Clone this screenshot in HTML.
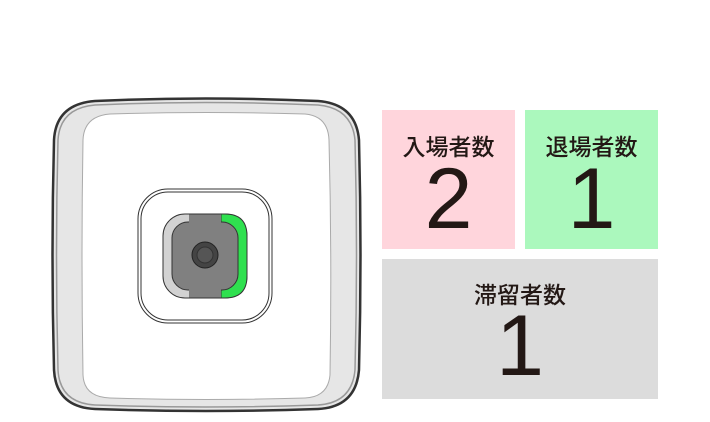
<!DOCTYPE html>
<html><head><meta charset="utf-8"><style>
html,body{margin:0;padding:0;background:#fff;}
body{width:710px;height:422px;position:relative;overflow:hidden;font-family:"Liberation Sans","Noto Sans CJK JP",sans-serif;color:#231815;}
.box{position:absolute;text-align:center;}
.lbl{position:absolute;left:0;right:0;font-size:23px;line-height:23px;font-weight:500;}
.num{position:absolute;left:0;right:0;font-size:86px;line-height:86px;}
</style></head><body>
<svg width="710" height="422" style="position:absolute;left:0;top:0">
  <path d="M95,101 Q205,96 318,101 Q356,104 359,140 Q362,255 359,370 Q356,407 318,409 Q205,413 95,409 Q56,407 54,370 Q51,255 54,140 Q56,104 95,101 Z" fill="#e6e6e6" stroke="#333" stroke-width="2.5"/>
  <path d="M95,105 Q205,100 318,105 Q352,108 355,140 Q358,255 355,370 Q352,403 318,405 Q205,409 95,405 Q60,403 58,370 Q55,255 58,140 Q60,108 95,105 Z" fill="none" stroke="#999" stroke-width="1.5"/>
  <path d="M110,114 Q205,111 305,114 Q328,116 329,140 Q332,255 330,375 Q328,397 305,398 Q205,401 110,398 Q84,397 83,375 Q81,255 83,140 Q84,116 110,114 Z" fill="#fff" stroke="#aaa" stroke-width="1"/>
  <rect x="138" y="189" width="134" height="134" rx="30" fill="#fff" stroke="#333" stroke-width="1"/>
  <rect x="141" y="192" width="128" height="128" rx="27" fill="none" stroke="#333" stroke-width="1"/>
  <rect x="163" y="214" width="84" height="84" rx="22" fill="#d2d2d2" stroke="#333" stroke-width="1"/>
  <path d="M221,214 L225,214 Q247,214 247,236 L247,276 Q247,298 225,298 L221,298 Z" fill="#2fe04f" stroke="#333" stroke-width="1"/>
  <rect x="172" y="222" width="66" height="68" rx="16" fill="#808080" stroke="#333" stroke-width="1"/>
  <rect x="189" y="214" width="32" height="84" fill="#808080"/>
  <line x1="189" y1="214" x2="221" y2="214" stroke="#333"/>
  <line x1="189" y1="298" x2="221" y2="298" stroke="#333"/>
  <circle cx="205" cy="255" r="13" fill="#444" stroke="#222"/>
  <circle cx="205" cy="255" r="8" fill="#555" stroke="#333"/>
</svg>
<div class="box" style="left:382px;top:110px;width:133px;height:139px;background:#ffd5dc">
  <div class="lbl" style="top:26px">入場者数</div><div class="num" style="top:46px">2</div></div>
<div class="box" style="left:525px;top:110px;width:133px;height:139px;background:#abf8bd">
  <div class="lbl" style="top:26px">退場者数</div><div class="num" style="top:46px">1</div></div>
<div class="box" style="left:382px;top:259px;width:276px;height:140px;background:#dcdcdc">
  <div class="lbl" style="top:25px">滞留者数</div><div class="num" style="top:44px">1</div></div>
</body></html>
